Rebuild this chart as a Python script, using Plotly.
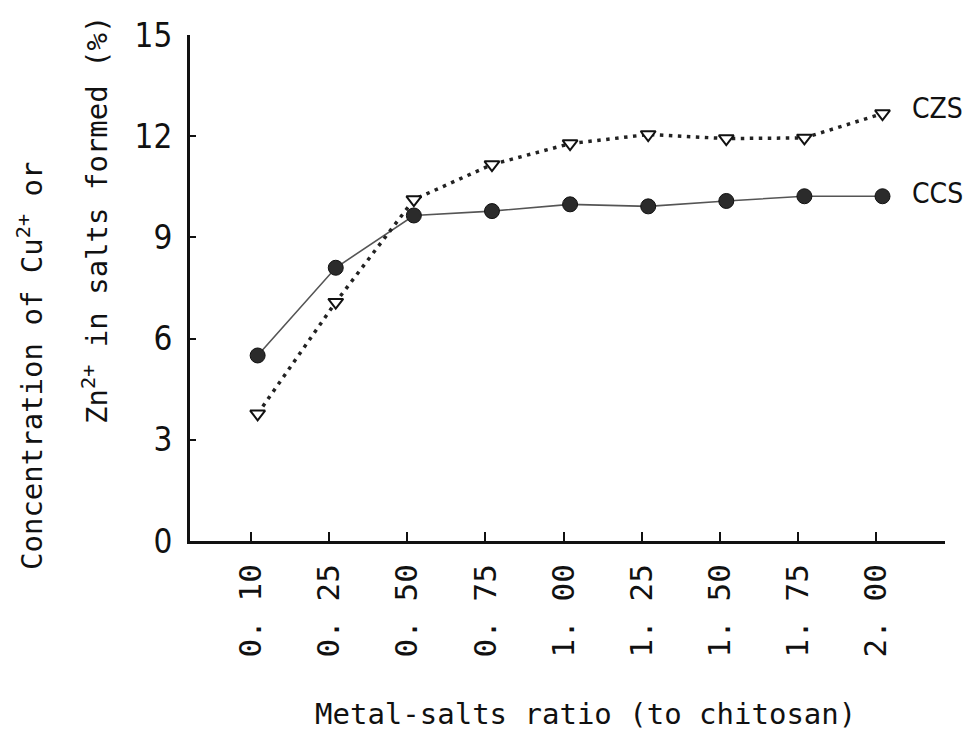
import plotly.graph_objects as go

# ---- data ----
ratios = ["0. 10", "0. 25", "0. 50", "0. 75", "1. 00", "1. 25", "1. 50", "1. 75", "2. 00"]
ccs = [5.50, 8.10, 9.65, 9.78, 9.98, 9.92, 10.08, 10.22, 10.22]
czs = [3.77, 7.08, 10.12, 11.16, 11.78, 12.05, 11.93, 11.95, 12.67]
y_ticks = [0, 3, 6, 9, 12, 15]

W, H = 966, 734
ML, MR, MT, MB = 190, 21, 35, 193
PW, PH = W - ML - MR, H - MT - MB

NARROW = "Liberation Sans Narrow, DejaVu Sans Condensed, Arial Narrow, sans-serif"
MONO = "DejaVu Sans Mono, Liberation Mono, monospace"

idx = list(range(len(ratios)))

fig = go.Figure()
fig.add_trace(go.Scatter(
    x=idx, y=ccs, mode="lines+markers", name="CCS",
    line=dict(color="#555555", width=1.6),
    marker=dict(symbol="circle", size=15, color="#2b2b2b",
                line=dict(color="#111111", width=1)),
))
fig.add_trace(go.Scatter(
    x=idx, y=czs, mode="lines+markers", name="CZS",
    line=dict(color="#222222", width=3.5, dash="3.5px,5.5px"),
    marker=dict(symbol="triangle-down", size=13, color="white",
                line=dict(color="#111111", width=2)),
))

# series labels at line ends
fig.add_annotation(x=idx[-1], y=czs[-1], xref="x", yref="y", text="CZS",
                   showarrow=False, xanchor="left", yshift=5, xshift=27,
                   font=dict(family=NARROW, size=28, color="#111111"))
fig.add_annotation(x=idx[-1], y=ccs[-1], xref="x", yref="y", text="CCS",
                   showarrow=False, xanchor="left", yshift=3, xshift=27,
                   font=dict(family=NARROW, size=28, color="#111111"))

def px_x(p):
    return (p - ML) / PW

def px_y(p):
    return (H - MB - p) / PH

# axis titles
fig.add_annotation(x=px_x(30), y=px_y(366), xref="paper", yref="paper",
                   text="Concentration of Cu<sup>2+</sup> or", textangle=-90,
                   showarrow=False, xanchor="center", yanchor="middle",
                   font=dict(family=MONO, size=29, color="#111111"))
fig.add_annotation(x=px_x(95), y=px_y(220), xref="paper", yref="paper",
                   text="Zn<sup>2+</sup> in salts formed (%)", textangle=-90,
                   showarrow=False, xanchor="center", yanchor="middle",
                   font=dict(family=MONO, size=29, color="#111111"))
fig.add_annotation(x=px_x(585), y=px_y(714), xref="paper", yref="paper",
                   text="Metal-salts ratio (to chitosan)",
                   showarrow=False, xanchor="center", yanchor="middle",
                   font=dict(family=MONO, size=29, color="#111111"))

fig.update_layout(
    width=W, height=H, autosize=False,
    margin=dict(l=ML, r=MR, t=MT, b=MB, pad=0),
    paper_bgcolor="white", plot_bgcolor="white",
    showlegend=False,
)
fig.update_xaxes(
    range=[-0.866, 8.80],
    tickmode="array", tickvals=[i - 0.083 for i in idx], ticktext=ratios,
    tickangle=-90, ticks="inside", ticklen=9, tickwidth=2, tickcolor="#111111",
    showline=True, linecolor="#111111", linewidth=2.5,
    showgrid=False, zeroline=False,
    tickfont=dict(family=MONO, size=31, color="#111111"),
    ticklabelstandoff=8,
)
fig.update_yaxes(
    range=[0, 15],
    tickmode="array", tickvals=y_ticks, ticktext=[str(v) for v in y_ticks],
    ticks="inside", ticklen=6, tickwidth=1.5, tickcolor="#111111",
    showline=True, linecolor="#111111", linewidth=3,
    showgrid=False, zeroline=False,
    tickfont=dict(family=NARROW, size=33, color="#111111"),
    ticklabelstandoff=8,
)

fig.write_html("out.html", config={"displayModeBar": False})
